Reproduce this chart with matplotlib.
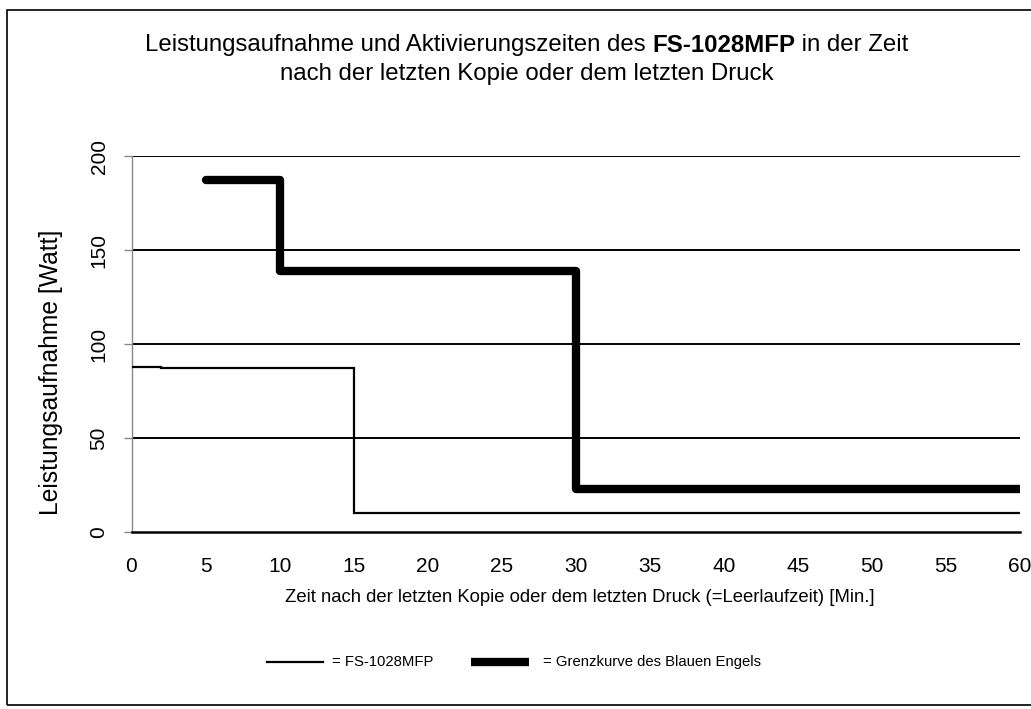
import matplotlib
matplotlib.use("Agg")
import matplotlib.pyplot as plt
from matplotlib.lines import Line2D
from matplotlib.patches import Rectangle

# ---- data ----
fs_x = [0, 2, 2, 15, 15, 60]
fs_y = [88, 88, 87, 87, 10, 10]
gr_x = [5, 10, 10, 30, 30, 60]
gr_y = [187, 187, 139, 139, 23, 23]
x_ticks = [0, 5, 10, 15, 20, 25, 30, 35, 40, 45, 50, 55, 60]
y_ticks = [0, 50, 100, 150, 200]
title_a = "Leistungsaufnahme und Aktivierungszeiten des "
title_b = "FS-1028MFP"
title_c = " in der Zeit"
title_2 = "nach der letzten Kopie oder dem letzten Druck"
xlabel = "Zeit nach der letzten Kopie oder dem letzten Druck (=Leerlaufzeit) [Min.]"
ylabel = "Leistungsaufnahme [Watt]"
legend_labels = ["= FS-1028MFP", "= Grenzkurve des Blauen Engels"]

plt.rcParams['font.family'] = ['Liberation Sans', 'DejaVu Sans']

W, H = 1031, 709
fig = plt.figure(figsize=(W / 100, H / 100), dpi=100)
ax = fig.add_axes([131.5 / W, 1 - 532 / H, (1020 - 131.5) / W, (532 - 156) / H])

ax.set_xlim(0, 60)
ax.set_ylim(0, 200)
for y in y_ticks[1:]:
    ax.axhline(y, color='black', lw=1.4, zorder=1)

ax.plot(fs_x, fs_y, color='black', lw=1.6, zorder=3, solid_joinstyle='miter')
ax.plot(gr_x, gr_y, color='black', lw=6, zorder=4, solid_capstyle='round',
        solid_joinstyle='round')

ax.set_xticks(x_ticks)
ax.set_yticks(y_ticks)
ax.tick_params(axis='x', length=0, pad=18, labelsize=15)
ax.tick_params(axis='y', length=6, width=1, color='#888888', pad=10.5, labelsize=15,
               labelrotation=90)
for lab in ax.get_yticklabels():
    lab.set_va('center')

ax.spines['top'].set_visible(False)
ax.spines['right'].set_visible(False)
ax.spines['left'].set_color('#888888')
ax.spines['left'].set_linewidth(1)
ax.spines['bottom'].set_color('black')
ax.spines['bottom'].set_linewidth(1.8)

fig.text(51 / W, 1 - 372 / H, ylabel, rotation=90, ha='center', va='center',
         fontsize=17.7)
fig.text(580 / W, 1 - 597 / H, xlabel, ha='center', va='center', fontsize=13.3)

# title with bold part
fig.canvas.draw()
r = fig.canvas.get_renderer()
ty1 = 1 - 45 / H
tfs = 17.3
ta = fig.text(0, ty1, title_a, fontsize=tfs, va='center')
tb = fig.text(0, ty1, title_b, fontsize=tfs, va='center', fontweight='bold')
tc = fig.text(0, ty1, title_c, fontsize=tfs, va='center')
wa = ta.get_window_extent(r).width
wb = tb.get_window_extent(r).width
wc = tc.get_window_extent(r).width
cx = 526.5
x0 = cx - (wa + wb + wc) / 2
ta.set_x(x0 / W)
tb.set_x((x0 + wa) / W)
tc.set_x((x0 + wa + wb) / W)
fig.text(cx / W, 1 - 74 / H, title_2, fontsize=tfs, ha='center', va='center')

# legend (manual)
ly = 1 - 662 / H
fig.add_artist(Line2D([267 / W, 323 / W], [ly, ly], color='black', lw=1.6))
fig.text(332 / W, ly, legend_labels[0], fontsize=10.7, va='center')
fig.add_artist(Line2D([471 / W, 529 / W], [ly, ly], color='black', lw=6,
                      solid_capstyle='butt'))
fig.text(543 / W, ly, legend_labels[1], fontsize=10.7, va='center')

# outer frame
fig.add_artist(Rectangle((7 / W, 4 / H), 1.2, 1 - 14 / H, transform=fig.transFigure,
                         fill=False, edgecolor='black', lw=1.2))

fig.savefig("out.png", dpi=100)
